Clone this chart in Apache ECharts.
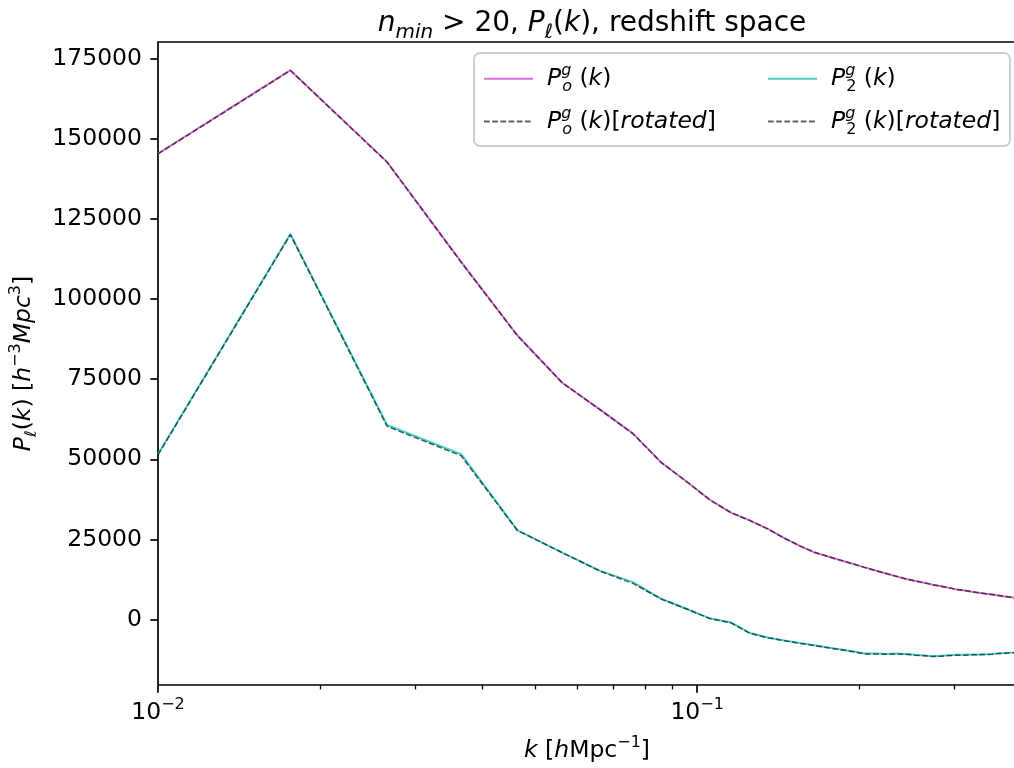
<!DOCTYPE html>
<html>
<head>
<meta charset="utf-8">
<script src="https://cdn.jsdelivr.net/npm/echarts@6/dist/echarts.min.js"></script>
<style>
  html, body { margin: 0; padding: 0; background: #fff; }
  #chart { width: 1014px; height: 768px; }
</style>
</head>
<body>
<div id="chart"></div>
<script>
// Wavenumber bins k [h/Mpc]
const kValues = [0.01, 0.0176, 0.0266, 0.0365, 0.0464, 0.0562, 0.0661, 0.0760, 0.0858, 0.0957,
  0.1056, 0.1155, 0.1254, 0.1352, 0.1451, 0.1550, 0.1649, 0.1748, 0.1846, 0.1945,
  0.2044, 0.2143, 0.2242, 0.2340, 0.2439, 0.2538, 0.2637, 0.2736, 0.2834, 0.2933,
  0.3032, 0.3131, 0.3230, 0.3328, 0.3427, 0.3526, 0.3625, 0.3724, 0.3822, 0.3921];

// Monopole P_0^g(k)
const p0 = [145400, 171400, 142800, 111600, 88700, 73900, 65500, 58100, 49000, 43000,
  37400, 33400, 30900, 28300, 25400, 23000, 21000, 19700, 18500, 17400,
  16300, 15300, 14400, 13500, 12700, 12050, 11500, 10900, 10400, 9900,
  9400, 9100, 8700, 8400, 8100, 7800, 7500, 7200, 7000, 6700];

// Monopole, rotated catalogue
const p0Rot = [145300, 171300, 142700, 111500, 88600, 73900, 65400, 58000, 49000, 43000,
  37300, 33400, 30900, 28300, 25400, 23000, 21000, 19700, 18500, 17400,
  16300, 15300, 14400, 13500, 12700, 12050, 11500, 10900, 10400, 9900,
  9400, 9100, 8700, 8400, 8100, 7800, 7500, 7200, 7000, 6700];

// Quadrupole P_2^g(k)
const p2 = [51600, 120300, 60700, 51600, 27900, 20900, 15200, 11700, 6500, 3300,
  400, -900, -4200, -5600, -6500, -7300, -8000, -8700, -9300, -9900,
  -10600, -10600, -10700, -10600, -10700, -11000, -11200, -11400, -11300, -11100,
  -11000, -11000, -10900, -10900, -10800, -10700, -10500, -10400, -10300, -10200];

// Quadrupole, rotated catalogue
const p2Rot = [51400, 120100, 60300, 51100, 27800, 20900, 15100, 11300, 6400, 3300,
  300, -1000, -4300, -5700, -6600, -7400, -8100, -8800, -9400, -10000,
  -10700, -10700, -10800, -10700, -10800, -11100, -11300, -11500, -11400, -11200,
  -11100, -11100, -11000, -11000, -10900, -10800, -10600, -10500, -10400, -10300];

const yTicks = [0, 25000, 50000, 75000, 100000, 125000, 150000, 175000];
const xMajorTicks = [0.01, 0.1];
const xMinorTicks = [0.02, 0.03, 0.04, 0.05, 0.06, 0.07, 0.08, 0.09, 0.2, 0.3];

const FONT = 'DejaVu Sans';
const pairs = (ys) => kValues.map((k, i) => [k, ys[i]]);

// rich-text styles for math-like labels
function mathRich(size) {
  const s = Math.round(size * 0.7);
  const base = { fontFamily: FONT, color: '#000', fontWeight: 'normal' };
  return {
    n: Object.assign({}, base, { fontSize: size, lineHeight: size * 1.35 }),
    i: Object.assign({}, base, { fontSize: size, fontStyle: 'italic', lineHeight: size * 1.35 }),
    sup: Object.assign({}, base, { fontSize: s, fontStyle: 'italic', verticalAlign: 'top', lineHeight: s * 1.2 }),
    supn: Object.assign({}, base, { fontSize: s, verticalAlign: 'top', lineHeight: s * 1.2 }),
    supst: Object.assign({}, base, { fontSize: s, fontStyle: 'italic', verticalAlign: 'top', lineHeight: s * 1.2, width: 1 }),
    sub: Object.assign({}, base, { fontSize: s, fontStyle: 'italic', verticalAlign: 'bottom', lineHeight: s * 1.2 }),
    subn: Object.assign({}, base, { fontSize: s, verticalAlign: 'bottom', lineHeight: s * 1.2 })
  };
}

const legendLabels = {
  P0: '{i|P}{supst|g}{sub|o}{n| (}{i|k}{n|)}',
  P0rot: '{i|P}{supst|g}{sub|o}{n| (}{i|k}{n|)[}{i|rotated}{n|]}',
  P2: '{i|P}{supst|g}{subn|2}{n| (}{i|k}{n|)}',
  P2rot: '{i|P}{supst|g}{subn|2}{n| (}{i|k}{n|)[}{i|rotated}{n|]}'
};

const chart = echarts.init(document.getElementById('chart'), null, { renderer: 'canvas' });

const legendCommon = {
  orient: 'vertical',
  top: 63,
  itemWidth: 49,
  itemHeight: 14,
  itemGap: 11,
  padding: 0,
  formatter: (name) => legendLabels[name],
  itemStyle: { color: 'rgba(0,0,0,0)', borderWidth: 0, opacity: 0 },
  textStyle: { rich: mathRich(23.5), padding: [0, 0, 0, 9] },
  selectedMode: false
};

chart.setOption({
  animation: false,
  backgroundColor: '#fff',
  title: {
    text: '{i|n}{sub|min}{n| > 20, }{i|P}{sub|ℓ}{n|(}{i|k}{n|), redshift space}',
    left: 587,
    textAlign: 'center',
    top: 0,
    textStyle: { fontWeight: 'normal', rich: mathRich(28) }
  },
  grid: {
    left: 158, top: 42, right: -2, bottom: 83,
    outerBoundsMode: 'none',
    containLabel: false,
    show: true, borderColor: '#000', borderWidth: 1.7, backgroundColor: 'transparent'
  },
  legend: [
    Object.assign({}, legendCommon, { left: 483, data: ['P0', 'P0rot'] }),
    Object.assign({}, legendCommon, { left: 767, data: ['P2', 'P2rot'] })
  ],
  graphic: [{
    type: 'rect',
    z: 3,
    shape: { x: 474, y: 53, width: 536, height: 93, r: 6 },
    style: { fill: 'rgba(255,255,255,0.8)', stroke: '#cccccc', lineWidth: 1.8 }
  }],
  xAxis: [{
    type: 'log',
    logBase: 10,
    min: 0.01,
    max: 0.3903,
    position: 'bottom',
    axisLine: { show: false, onZero: false },
    axisTick: { show: true, length: 7.7, inside: false, customValues: xMajorTicks,
      lineStyle: { color: '#000', width: 1.7 } },
    axisLabel: {
      customValues: xMajorTicks,
      margin: 12,
      formatter: (v) => '{n|10}{supn|−' + Math.round(-Math.log10(v)) + '}',
      rich: mathRich(23.5)
    },
    splitLine: { show: false },
    name: '{i|k}{n| [}{i|h}{n|Mpc}{supn|−1}{n|]}',
    nameLocation: 'middle',
    nameGap: 50,
    nameTextStyle: { rich: mathRich(23.5) }
  }, {
    type: 'log',
    logBase: 10,
    min: 0.01,
    max: 0.3903,
    position: 'bottom',
    axisLine: { show: false, onZero: false },
    axisTick: { show: true, length: 4.4, customValues: xMinorTicks,
      lineStyle: { color: '#000', width: 1.3 } },
    axisLabel: { show: false },
    splitLine: { show: false }
  }],
  yAxis: {
    type: 'value',
    min: -20400,
    max: 180200,
    axisLine: { show: false, onZero: false },
    axisTick: { show: true, length: 7.7, customValues: yTicks,
      lineStyle: { color: '#000', width: 1.7 } },
    axisLabel: {
      customValues: yTicks,
      margin: 16,
      color: '#000',
      fontFamily: FONT,
      fontSize: 23.5,
      formatter: (v) => String(v)
    },
    splitLine: { show: false },
    name: '{i|P}{sub|ℓ}{n|(}{i|k}{n|) [}{i|h}{supn|−3}{i|Mpc}{supn|3}{n|]}',
    nameLocation: 'middle',
    nameRotate: 90,
    nameGap: 118,
    nameTextStyle: { rich: mathRich(23.5) }
  },
  series: [
    { name: 'P0', type: 'line', data: pairs(p0), symbol: 'none', z: 2,
      lineStyle: { color: '#DA70D6', width: 2 }, itemStyle: { color: '#DA70D6' } },
    { name: 'P0rot', type: 'line', data: pairs(p0Rot), symbol: 'none', z: 2,
      lineStyle: { color: 'rgba(0,0,0,0.62)', width: 1.5, type: [5.7, 2.5] }, itemStyle: { color: 'rgba(0,0,0,0.62)' } },
    { name: 'P2', type: 'line', data: pairs(p2), symbol: 'none', z: 2,
      lineStyle: { color: '#48D1CC', width: 2 }, itemStyle: { color: '#48D1CC' } },
    { name: 'P2rot', type: 'line', data: pairs(p2Rot), symbol: 'none', z: 2,
      lineStyle: { color: 'rgba(0,0,0,0.62)', width: 1.5, type: [5.7, 2.5] }, itemStyle: { color: 'rgba(0,0,0,0.62)' } }
  ]
});
</script>
</body>
</html>
